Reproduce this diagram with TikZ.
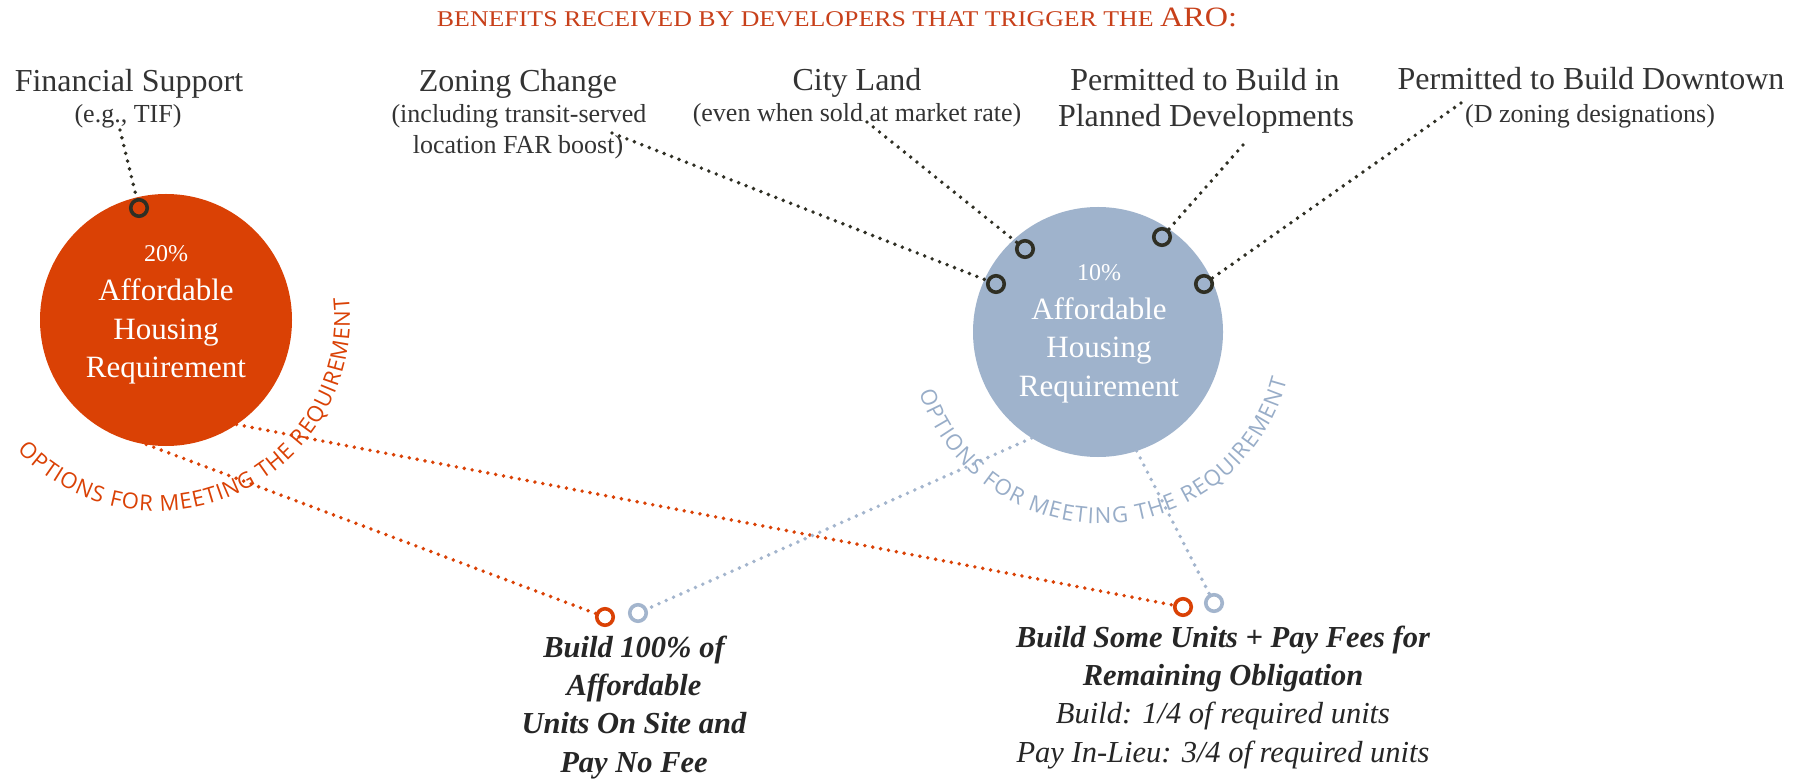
\documentclass[tikz,border=0pt]{standalone}
\usepackage{fontspec}
\usepackage{graphicx}
\setmainfont{Liberation Serif}
\newfontfamily\curvefamily{Open Sans}
\newcommand\curvetxt{\curvefamily\fontsize{22}{26}\selectfont}
\usetikzlibrary{decorations.text}
\definecolor{ored}{HTML}{DA4105}
\definecolor{titlec}{HTML}{C8401A}
\definecolor{bfill}{HTML}{9FB3CC}
\definecolor{btext}{HTML}{98ADC8}
\definecolor{bline}{HTML}{A3B5CD}
\definecolor{dark}{HTML}{2F2F24}
\definecolor{txtc}{HTML}{333333}
\definecolor{btxt}{HTML}{262626}
\begin{document}
\begin{tikzpicture}[x=1pt,y=1pt,
  lbl/.style={anchor=base, inner sep=0pt, text=txtc, font=\fontsize{32}{38}\selectfont},
  sublbl/.style={anchor=base, inner sep=0pt, text=txtc, font=\fontsize{26}{31}\selectfont},
  incircle/.style={anchor=base, inner sep=0pt, text=white, font=\fontsize{31}{37}\selectfont},
  pct/.style={anchor=base, inner sep=0pt, text=white, font=\fontsize{24}{28}\selectfont},
  optb/.style={anchor=base, inner sep=0pt, text=btxt, font=\bfseries\itshape\fontsize{30.5}{36}\selectfont},
  opti/.style={anchor=base, inner sep=0pt, text=btxt, font=\itshape\fontsize{30.5}{36}\selectfont},
  ring/.style={circle, draw=#1, line width=3.6pt, minimum size=16.5pt, inner sep=0pt, outer sep=0pt},
  dotline/.style={draw=#1, line width=3.9pt, line cap=round, dash pattern=on 0pt off 8pt},
  bigcirc/.style={circle, fill=#1, inner sep=0pt, outer sep=0pt}
]
\useasboundingbox (0,0) rectangle (1809,780);
\fill[white] (0,0) rectangle (1809,780);

% title
\node[anchor=base, inner sep=0pt, text=titlec] (title) at (837,753)
  {\resizebox{800pt}{\height}{\fontsize{22.5}{26}\selectfont BENEFITS RECEIVED BY DEVELOPERS THAT TRIGGER THE \fontsize{28}{30}\selectfont ARO:}};

% big circles
\node[bigcirc=ored, minimum size=252pt] (red) at (166,460) {};
\node[bigcirc=bfill, minimum size=250pt] (blue) at (1098,448) {};

% circle texts
\node[pct] (r20) at (166,518) {20\%};
\node[incircle] (ra) at (166,479) {Affordable};
\node[incircle] (rh) at (166,440) {Housing};
\node[incircle] (rr) at (166,402) {Requirement};
\node[pct] (b10) at (1099,499) {10\%};
\node[incircle] (ba) at (1099,460) {Affordable};
\node[incircle] (bh) at (1099,422) {Housing};
\node[incircle] (br) at (1099,383) {Requirement};

% top labels
\node[lbl] (fs) at (129,688) {Financial Support};
\node[sublbl] (fssub) at (128,657) {(e.g., TIF)};
\node[lbl] (zc) at (518,688) {Zoning Change};
\node[sublbl] (zcsub1) at (519,657) {(including transit-served};
\node[sublbl] (zcsub2) at (518,626) {location FAR boost)};
\node[lbl] (cl) at (857,689) {City Land};
\node[sublbl] (clsub) at (857,658) {(even when sold at market rate)};
\node[lbl] (pd1) at (1205,689) {Permitted to Build in};
\node[lbl] (pd2) at (1206,653) {Planned Developments};
\node[lbl] (dt) at (1591,690) {Permitted to Build Downtown};
\node[sublbl] (dtsub) at (1590,657) {(D zoning designations)};

% rings
\node[ring=dark] (rfs) at (139,572) {};
\node[ring=dark] (bz) at (996,496) {};
\node[ring=dark] (bc) at (1025,531) {};
\node[ring=dark] (bp) at (1162,543) {};
\node[ring=dark] (bd) at (1204,496) {};
\node[ring=ored] (or1) at (605,163) {};
\node[ring=bline] (ob1) at (638,167) {};
\node[ring=ored] (or2) at (1183,173) {};
\node[ring=bline] (ob2) at (1214,177) {};

% line start points
\coordinate (fsl) at (120,650);
\coordinate (zcl) at (612,647);
\coordinate (cll) at (867,658);
\coordinate (pdl) at (1243,635);
\coordinate (dtl) at (1461,677);

% dark connectors
\draw[dotline=dark] (fsl) -- (rfs);
\draw[dotline=dark] (zcl) -- (bz);
\draw[dotline=dark] (cll) -- (bc);
\draw[dotline=dark] (pdl) -- (bp);
\draw[dotline=dark] (dtl) -- (bd);

% option connectors
\draw[dotline=ored] (red.261.4) -- (or1);
\draw[dotline=ored] (red.304.8) -- (or2);
\draw[dotline=bline] (blue.238.6) -- (ob1);
\draw[dotline=bline] (blue.288.9) -- (ob2);

% curved texts
\coordinate (rarc) at (157,462);
\coordinate (barc) at (1101,448.5);
\path[decorate, decoration={text along path, text={|\curvetxt|OPTIONS FOR MEETING THE REQUIREMENT}, text color=ored, text align={fit to path}}]
  ([shift={(223.5:193pt)}]rarc) arc[start angle=223.5, end angle=366, radius=193pt];
\path[decorate, decoration={text along path, text={|\curvetxt|OPTIONS FOR MEETING THE REQUIREMENT}, text color=btext, text align={fit to path}}]
  ([shift={(198.5:192pt)}]barc) arc[start angle=198.5, end angle=345.5, radius=192pt];

% option texts
\node[optb] (o1a) at (634,123) {Build 100\% of};
\node[optb] (o1b) at (634,85) {Affordable};
\node[optb] (o1c) at (634,47) {Units On Site and};
\node[optb] (o1d) at (634,8) {Pay No Fee};
\node[optb] (o2a) at (1223,133) {Build Some Units + Pay Fees for};
\node[optb] (o2b) at (1223,95) {Remaining Obligation};
\node[opti] (o2c) at (1223,57) {Build: 1/4 of required units};
\node[opti] (o2d) at (1223,18) {Pay In-Lieu: 3/4 of required units};
\end{tikzpicture}
\end{document}
